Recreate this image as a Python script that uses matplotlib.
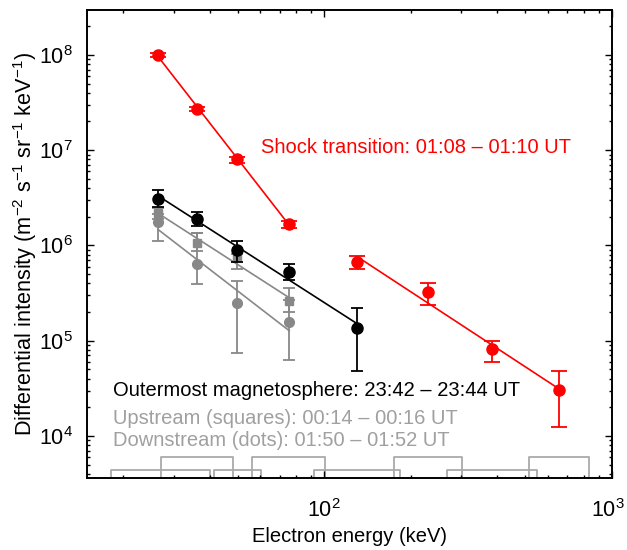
import numpy as np
import matplotlib
matplotlib.use("Agg")
import matplotlib.pyplot as plt
import matplotlib.transforms as mtransforms

plt.rcParams['font.family'] = ['Liberation Sans', 'DejaVu Sans']
plt.rcParams['mathtext.fontset'] = 'custom'
plt.rcParams['mathtext.rm'] = 'Liberation Sans'
plt.rcParams['mathtext.it'] = 'Liberation Sans:italic'
plt.rcParams['mathtext.bf'] = 'Liberation Sans:bold'

# ---- data ----
shock_E = [26.5, 36.2, 49.9, 75.6]
shock_I = [1.0e8, 2.71e7, 8.04e6, 1.68e6]
shock_hi = [1.042e8, 2.83e7, 8.56e6, 1.82e6]
shock_lo = [0.946e8, 2.60e7, 7.40e6, 1.52e6]

shock2_E = [130, 230, 383, 655]
shock2_I = [6.66e5, 3.23e5, 8.13e4, 3.04e4]
shock2_hi = [7.76e5, 4.06e5, 1.0e5, 4.78e4]
shock2_lo = [5.70e5, 2.39e5, 6.02e4, 1.25e4]

outer_E = [26.5, 36.2, 49.9, 75.6, 130]
outer_I = [3.10e6, 1.91e6, 8.97e5, 5.31e5, 1.35e5]
outer_hi = [3.83e6, 2.23e6, 1.10e6, 6.40e5, 2.22e5]
outer_lo = [2.55e6, 1.60e6, 6.76e5, 4.35e5, 4.85e4]

up_E = [26.5, 36.2, 49.9, 75.6]
up_I = [2.18e6, 1.07e6, 7.52e5, 2.63e5]
up_hi = [2.48e6, 1.34e6, 8.15e5, 3.58e5]
up_lo = [1.90e6, 8.75e5, 5.66e5, 2.0e5]

down_E = [26.5, 36.2, 49.9, 75.6]
down_I = [1.78e6, 6.40e5, 2.47e5, 1.58e5]
down_hi = [2.14e6, 1.35e6, 4.24e5, 2.68e5]
down_lo = [1.11e6, 3.94e5, 7.5e4, 6.28e4]

# energy channel ranges (keV)
chan_low_row = [(18.1, 40.2), (41.3, 60.3), (92.5, 183.6), (266.7, 550)]
chan_high_row = [(27.1, 48.2), (56.2, 100.8), (175.4, 300.6), (515, 834)]

labels = {
    'shock': 'Shock transition: 01:08 \u2013 01:10 UT',
    'outer': 'Outermost magnetosphere: 23:42 \u2013 23:44 UT',
    'up': 'Upstream (squares): 00:14 \u2013 00:16 UT',
    'down': 'Downstream (dots): 01:50 \u2013 01:52 UT',
}

RED = '#ff0000'
GRAY = '#888888'
LGRAY = '#a0a0a0'
BOXGRAY = '#aaaaaa'

fig = plt.figure(figsize=(6.27, 5.5), dpi=100)
ax = fig.add_axes([0.1388, 0.1309, 0.976 - 0.1388, 0.9818 - 0.1309])
ax.set_xscale('log')
ax.set_yscale('log')
ax.set_xlim(15, 1000)
ax.set_ylim(3.62e3, 2.96e8)


def fitline(E, I, color, lw=1.2):
    lx = np.log10(E)
    ly = np.log10(I)
    p = np.polyfit(lx, ly, 1)
    xx = np.array([lx[0], lx[-1]])
    ax.plot(10 ** xx, 10 ** np.polyval(p, xx), color=color, lw=lw, zorder=2)


def errs(I, lo, hi):
    I = np.asarray(I)
    return [I - np.asarray(lo), np.asarray(hi) - I]


# gray sets
fitline(up_E, up_I, GRAY)
fitline(down_E, down_I, GRAY)
ax.errorbar(up_E, up_I, yerr=errs(up_I, up_lo, up_hi), fmt='s', color=GRAY,
            ms=6, capsize=4.5, elinewidth=1.3, capthick=1.3, zorder=3)
ax.errorbar(down_E, down_I, yerr=errs(down_I, down_lo, down_hi), fmt='o', color=GRAY,
            ms=7, capsize=4.5, elinewidth=1.3, capthick=1.3, zorder=3)

# black
fitline(outer_E, outer_I, 'black')
ax.errorbar(outer_E, outer_I, yerr=errs(outer_I, outer_lo, outer_hi), fmt='o', color='black',
            ms=8, capsize=4.5, elinewidth=1.3, capthick=1.3, zorder=4)

# red
fitline(shock_E, shock_I, RED)
fitline(shock2_E, shock2_I, RED)
ax.errorbar(shock_E, shock_I, yerr=errs(shock_I, shock_lo, shock_hi), fmt='o', color=RED,
            ms=8, capsize=5.5, elinewidth=1.3, capthick=1.3, zorder=4)
ax.errorbar(shock2_E, shock2_I, yerr=errs(shock2_I, shock2_lo, shock2_hi), fmt='o', color=RED,
            ms=8, capsize=5.5, elinewidth=1.3, capthick=1.3, zorder=4)

# channel boxes
trans = mtransforms.blended_transform_factory(ax.transData, ax.transAxes)
for (a, b) in chan_low_row:
    ax.plot([a, a, b, b], [0, 0.017, 0.017, 0], color=BOXGRAY, lw=1.3, transform=trans, zorder=1)
for (a, b) in chan_high_row:
    ax.plot([a, a, b, b], [0, 0.0455, 0.0455, 0], color=BOXGRAY, lw=1.3, transform=trans, zorder=1)

# texts
fs = 14.5
ax.text(0.331, 0.707, labels['shock'], color=RED, fontsize=fs, transform=ax.transAxes, va='center')
ax.text(0.0495, 0.188, labels['outer'], color='black', fontsize=fs, transform=ax.transAxes, va='center')
ax.text(0.0495, 0.128, labels['up'], color=LGRAY, fontsize=fs, transform=ax.transAxes, va='center')
ax.text(0.0495, 0.081, labels['down'], color=LGRAY, fontsize=fs, transform=ax.transAxes, va='center')

ax.set_xlabel('Electron energy (keV)', fontsize=fs)
ax.set_ylabel('Differential intensity (m$^{-2}$ s$^{-1}$ sr$^{-1}$ keV$^{-1}$)', fontsize=15.6)
ax.xaxis.set_label_coords(0.5, -0.104)
ax.yaxis.set_label_coords(-0.092, 0.5)

for s in ax.spines.values():
    s.set_linewidth(1.4)
ax.tick_params(which='both', direction='in', top=True, right=True, labelsize=15.5, width=1.0)
ax.tick_params(which='major', length=5)
ax.tick_params(axis='x', which='major', pad=15)
ax.tick_params(axis='y', which='major', pad=10)
ax.tick_params(which='minor', length=2.5)

# keep the rightmost x tick label inside the figure
fig.canvas.draw()
shift = mtransforms.ScaledTranslation(-4 / 100, 0, fig.dpi_scale_trans)
for tick in ax.xaxis.get_major_ticks():
    if np.isclose(tick.get_loc(), 1000):
        tick.label1.set_transform(tick.label1.get_transform() + shift)

fig.savefig('out.png', dpi=100)
